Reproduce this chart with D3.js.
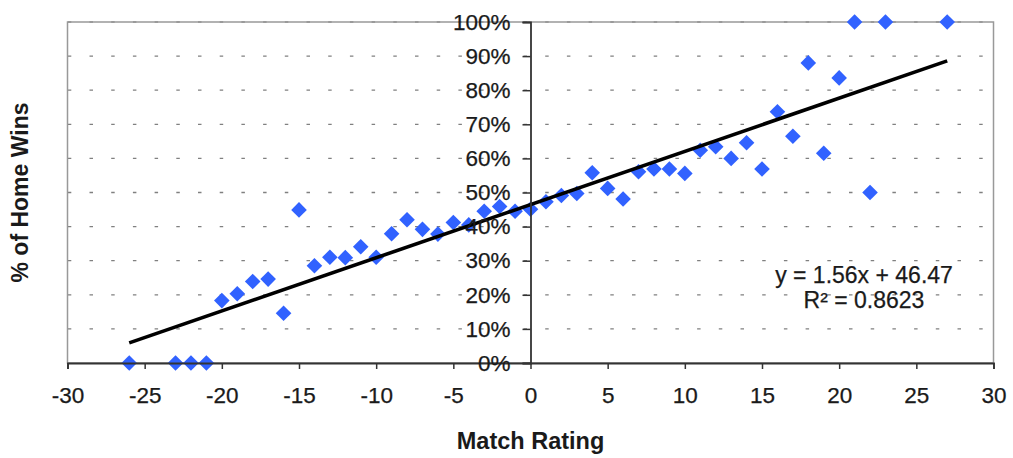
<!DOCTYPE html>
<html><head><meta charset="utf-8">
<script src="https://cdn.jsdelivr.net/npm/d3@7"></script>
<style>
html,body{margin:0;padding:0;background:#fff;}
svg{display:block;font-family:"Liberation Sans",Arial,Helvetica,sans-serif;}
</style></head>
<body>
<svg id="chart" width="1013" height="458"></svg>
<script>
const matchRating = [-26,-23,-22,-21,-20,-19,-18,-17,-16,-15,-14,-13,-12,-11,-10,-9,-8,-7,-6,-5,-4,-3,-2,-1,0,1,2,3,4,5,6,7,8,9,10,11,12,13,14,15,16,17,18,19,20,21,22,23,27];
const homeWinPct = [0,0,0,0,18.3,20.3,23.9,24.6,14.6,44.9,28.5,31.0,30.9,34.1,31.0,37.9,42.0,39.2,37.8,41.2,40.5,44.5,45.9,44.5,45.1,47.3,49.1,49.7,55.8,51.2,48.1,56.1,56.9,56.9,55.6,62.4,63.4,60.0,64.6,56.9,73.7,66.5,88.0,61.5,83.6,100,50,100,100];
const xTicks = [-30,-25,-20,-15,-10,-5,0,5,10,15,20,25,30];
const yTicks = [0,10,20,30,40,50,60,70,80,90,100];
const trendSlope = 1.56, trendIntercept = 46.47;
const trendRange = [-26, 27];
const equationLines = ["y = 1.56x + 46.47", "R\u00B2 = 0.8623"];

const svg = d3.select("#chart");
const L = 67.5, R = 993.5, T = 22, B = 363;
const x = d3.scaleLinear().domain([-30, 30]).range([L, R]);
const y = d3.scaleLinear().domain([0, 100]).range([B, T]);
const data = matchRating.map((m, i) => ({m, v: homeWinPct[i]}));

// gridlines
svg.append("g").selectAll("line").data(yTicks.filter(d => d > 0)).join("line")
  .attr("x1", L).attr("x2", R).attr("y1", d => y(d)).attr("y2", d => y(d))
  .attr("stroke", "#808080").attr("stroke-width", 1.3)
  .attr("stroke-dasharray", "3.5,18.2").attr("stroke-dashoffset", -22);

// plot border
svg.append("rect").attr("x", L).attr("y", T).attr("width", R - L).attr("height", B - T)
  .attr("fill", "none").attr("stroke", "#999").attr("stroke-width", 1.5);

// points
svg.append("g").selectAll("path").data(data).join("path")
  .attr("transform", d => `translate(${x(d.m)},${y(d.v)})`)
  .attr("d", "M0,-7.8L7.8,0L0,7.8L-7.8,0Z")
  .attr("fill", "#3162ff");

// trend line
svg.append("line")
  .attr("x1", x(trendRange[0])).attr("y1", y(trendSlope * trendRange[0] + trendIntercept))
  .attr("x2", x(trendRange[1])).attr("y2", y(trendSlope * trendRange[1] + trendIntercept))
  .attr("stroke", "#000").attr("stroke-width", 3.6);

// x axis
const xAxis = svg.append("g").attr("transform", `translate(0,${B})`)
  .call(d3.axisBottom(x).tickValues(xTicks).tickSize(6).tickPadding(18).tickFormat(d3.format("d")));
xAxis.select(".domain").attr("stroke", "#333").attr("stroke-width", 1.8);
xAxis.selectAll(".tick line").attr("stroke", "#333").attr("stroke-width", 1.5);
xAxis.selectAll("text").attr("font-size", 22.5).attr("fill", "#1a1a1a")
  .attr("stroke", "#1a1a1a").attr("stroke-width", 0.25)
  .text(d => d < 0 ? "-" + Math.abs(d) : d);

// y axis at x = 0
const yAxis = svg.append("g").attr("transform", `translate(${x(0)},0)`)
  .call(d3.axisLeft(y).tickValues(yTicks).tickSize(8).tickPadding(12).tickFormat(d => d + "%"));
yAxis.select(".domain").attr("stroke", "#333").attr("stroke-width", 1.8);
yAxis.selectAll(".tick line").attr("stroke", "#333").attr("stroke-width", 1.5);
yAxis.selectAll("text").attr("font-size", 22.5).attr("fill", "#1a1a1a")
  .attr("stroke", "#1a1a1a").attr("stroke-width", 0.25);

// axis titles
svg.append("text").attr("x", x(0)).attr("y", 449).attr("text-anchor", "middle")
  .attr("font-size", 23.5).attr("font-weight", "bold").attr("fill", "#1a1a1a").text("Match Rating");
svg.append("text").attr("transform", `translate(28,${(T + B) / 2}) rotate(-90)`)
  .attr("text-anchor", "middle").attr("font-size", 23).attr("font-weight", "bold")
  .attr("fill", "#1a1a1a").text("% of Home Wins");

// equation
svg.append("g").selectAll("text").data(equationLines).join("text")
  .attr("x", 864).attr("y", (d, i) => 283 + i * 25).attr("text-anchor", "middle")
  .attr("font-size", 23).attr("fill", "#1a1a1a")
  .attr("stroke", "#1a1a1a").attr("stroke-width", 0.25).text(d => d);
</script>
</body></html>
